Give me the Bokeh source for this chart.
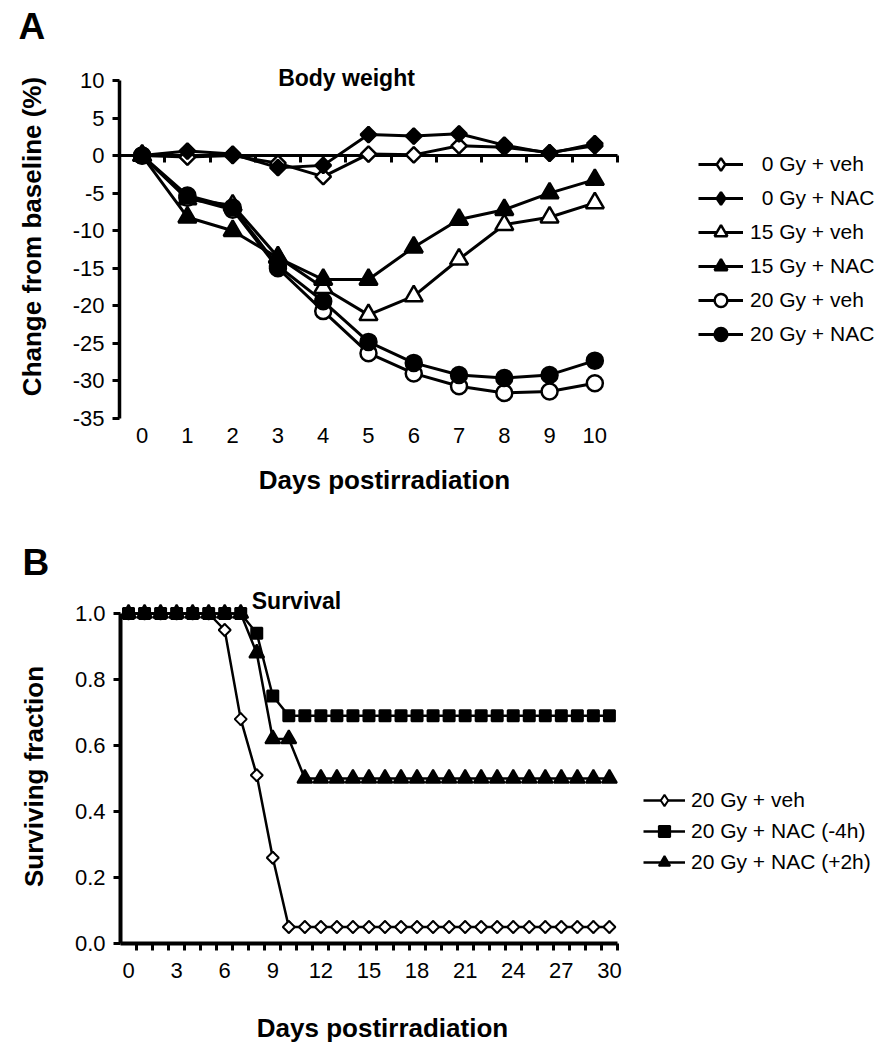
from bokeh.plotting import figure
from bokeh.models import (Range1d, LinearAxis, FixedTicker, Legend, LegendItem, Label,
                          PrintfTickFormatter, CustomJSTickFormatter)
from bokeh.layouts import column
from bokeh.embed import file_html
from bokeh.resources import INLINE
import math

FONT = "Liberation Sans"

# ---------------- Panel A: body weight ----------------
days_a = [0, 1, 2, 3, 4, 5, 6, 7, 8, 9, 10]
yticks_a = [-35, -30, -25, -20, -15, -10, -5, 0, 5, 10]
bw_0_veh = [0, -0.2, 0.0, -1.0, -2.8, 0.2, 0.1, 1.3, 1.1, 0.4, 1.3]
bw_0_nac = [0, 0.6, 0.2, -1.6, -1.3, 2.8, 2.6, 2.9, 1.4, 0.3, 1.6]
bw_15_veh = [0, -5.8, -6.6, -13.5, -17.6, -21.2, -18.7, -13.8, -9.2, -8.2, -6.3]
bw_15_nac = [0, -8.2, -10.0, -13.6, -16.5, -16.5, -12.2, -8.5, -7.2, -5.0, -3.2]
bw_20_veh = [0, -5.6, -7.2, -15.0, -20.7, -26.3, -29.0, -30.7, -31.6, -31.4, -30.3]
bw_20_nac = [0, -5.3, -6.9, -14.7, -19.4, -24.8, -27.6, -29.2, -29.6, -29.2, -27.3]
labels_a = ["\u20070 Gy + veh", "\u20070 Gy + NAC", "15 Gy + veh", "15 Gy + NAC",
            "20 Gy + veh", "20 Gy + NAC"]

# ---------------- Panel B: survival ----------------
days_b = [0, 1, 2, 3, 4, 5, 6, 7, 8, 9, 10, 11, 12, 13, 14, 15, 16, 17, 18, 19, 20,
          21, 22, 23, 24, 25, 26, 27, 28, 29, 30]
xticks_b = [0, 3, 6, 9, 12, 15, 18, 21, 24, 27, 30]
yticks_b = [0.0, 0.2, 0.4, 0.6, 0.8, 1.0]
surv_veh = [1.0, 1.0, 1.0, 1.0, 1.0, 1.0, 0.95, 0.68, 0.51, 0.26, 0.05, 0.05, 0.05,
            0.05, 0.05, 0.05, 0.05, 0.05, 0.05, 0.05, 0.05, 0.05, 0.05, 0.05, 0.05,
            0.05, 0.05, 0.05, 0.05, 0.05, 0.05]
surv_nac_m4 = [1.0, 1.0, 1.0, 1.0, 1.0, 1.0, 1.0, 1.0, 0.94, 0.75, 0.69, 0.69, 0.69,
               0.69, 0.69, 0.69, 0.69, 0.69, 0.69, 0.69, 0.69, 0.69, 0.69, 0.69, 0.69,
               0.69, 0.69, 0.69, 0.69, 0.69, 0.69]
surv_nac_p2 = [1.0, 1.0, 1.0, 1.0, 1.0, 1.0, 1.0, 1.0, 0.88, 0.62, 0.62, 0.5, 0.5,
               0.5, 0.5, 0.5, 0.5, 0.5, 0.5, 0.5, 0.5, 0.5, 0.5, 0.5, 0.5,
               0.5, 0.5, 0.5, 0.5, 0.5, 0.5]
labels_b = ["20 Gy + veh", "20 Gy + NAC (-4h)", "20 Gy + NAC (+2h)"]

W = 880
TICK_FS = "22px"


def make_axis(loc, ticks, lw, tick_out, standoff, bounds="auto", formatter=None,
              line=True):
    ax = LinearAxis(fixed_location=loc, ticker=FixedTicker(ticks=ticks), bounds=bounds)
    if formatter is not None:
        ax.formatter = formatter
    ax.axis_line_color = "black" if line else None
    ax.axis_line_width = lw
    ax.major_tick_line_color = "black" if tick_out > 0 else None
    ax.major_tick_line_width = 3
    ax.major_tick_out = tick_out
    ax.major_tick_in = 0
    ax.minor_tick_line_color = None
    ax.major_label_text_font = FONT
    ax.major_label_text_font_size = TICK_FS
    ax.major_label_text_color = "black"
    ax.major_label_standoff = standoff
    return ax


def text(p, x, y, s, size, bold=True, align="left", baseline="middle", angle=0.0):
    p.add_layout(Label(x=x, y=y, text=s, text_align=align, text_baseline=baseline,
                       angle=angle, text_font=FONT, text_font_size=size,
                       text_font_style="bold" if bold else "normal", text_color="black"))


def base_fig(h, xr, yr):
    p = figure(width=W, height=h, x_range=xr, y_range=yr, output_backend="svg",
               toolbar_location=None, x_axis_location=None, y_axis_location=None,
               min_border=0, background_fill_color="white", border_fill_color="white")
    p.outline_line_color = None
    p.grid.visible = False
    return p


def add_series(p, xs, vals, mk, sz, fc, lw, mlw, leg_sz, label):
    """Line + markers. Diamonds: a plain 'diamond' glyph (used by the legend) is drawn
    first and covered by 45-degree squares, which give the wider plot diamonds."""
    lr = p.line(xs, vals, line_color="black", line_width=lw)
    if mk == "diamond":
        sr = p.scatter(xs, vals, marker="diamond", size=leg_sz, fill_color=fc,
                       line_color="black", line_width=mlw)
        p.scatter(xs, vals, marker="square", angle=math.pi / 4, size=sz, fill_color=fc,
                  line_color="black", line_width=mlw)
    else:
        sr = p.scatter(xs, vals, marker=mk, size=sz, fill_color=fc,
                       line_color="black", line_width=mlw)
    return LegendItem(label=label, renderers=[lr, sr])


empty_fmt = CustomJSTickFormatter(code="return ''")

# ---------- Figure A (page px: day -0.5 -> x 119, 45.27 px/day; y 10 -> 80, 7.511 px/unit) ----------
HA = 538
sxa, sya = 45.27, 7.511
xr_a = Range1d(-0.5 - 119 / sxa, -0.5 + (W - 119) / sxa)
yr_a = Range1d(10 - (HA - 80) / sya, 10 + 80 / sya)
pA = base_fig(HA, xr_a, yr_a)

zero_a = make_axis(0, [d + 0.5 for d in days_a], 3, 7, 0, bounds=(-0.5, 10.5),
                   formatter=empty_fmt)
zero_a.level = "underlay"
pA.add_layout(zero_a, "below")
pA.add_layout(make_axis(-35, days_a, 0, 0, 10, line=False), "below")
pA.add_layout(make_axis(-0.5, yticks_a, 3.5, 7, 8, bounds=(-35, 10),
                        formatter=PrintfTickFormatter(format="%d")), "left")

# (values, marker, size, fill, legend index)
series_a = [
    (bw_15_veh, "triangle", 18, "white", 2),
    (bw_15_nac, "triangle", 18, "black", 3),
    (bw_20_veh, "circle", 16, "white", 4),
    (bw_20_nac, "circle", 16, "black", 5),
    (bw_0_veh, "diamond", 11, "white", 0),
    (bw_0_nac, "diamond", 11, "black", 1),
]
items_a = [None] * 6
for vals, mk, sz, fc, li in series_a:
    items_a[li] = add_series(pA, days_a, vals, mk, sz, fc, 3, 2.5, 15, labels_a[li])

legA = Legend(items=items_a, location=(698, HA - 350), glyph_width=45, glyph_height=32,
              label_height=30, spacing=2, padding=0, margin=0, label_standoff=7,
              border_line_color=None, background_fill_alpha=0,
              label_text_font=FONT, label_text_font_size="21px", label_text_color="black")
pA.add_layout(legA, "center")


def ax_x(px):
    return xr_a.start + px / sxa


def ax_y(py):
    return yr_a.end - py / sya


text(pA, ax_x(18), ax_y(26), "A", "37px")
text(pA, ax_x(346), ax_y(77), "Body weight", "23px", align="center")
text(pA, ax_x(31), ax_y(236), "Change from baseline (%)", "26px", align="center",
     angle=math.pi / 2)
text(pA, ax_x(384), ax_y(479), "Days postirradiation", "26px", align="center")

# ---------- Figure B (page px from 538: day -0.5 -> x 120, 16.03 px/day; 1.0 -> y 75, 330 px/unit) ----------
HB = 510
sxb, syb = 16.03, 330.0
xr_b = Range1d(-0.5 - 120 / sxb, -0.5 + (W - 120) / sxb)
yr_b = Range1d(1.0 - (HB - 75) / syb, 1.0 + 75 / syb)
pB = base_fig(HB, xr_b, yr_b)

pB.add_layout(make_axis(0, [d + 0.5 for d in days_b], 4, 7, 0, bounds=(-0.5, 30.5),
                        formatter=empty_fmt), "below")
pB.add_layout(make_axis(0, xticks_b, 0, 0, 19, line=False), "below")
pB.add_layout(make_axis(-0.5, yticks_b, 4, 7, 8, bounds=(0, 1),
                        formatter=PrintfTickFormatter(format="%.1f")), "left")

series_b = [
    (surv_veh, "diamond", 8.5, "white", 0),
    (surv_nac_p2, "triangle", 15, "black", 2),
    (surv_nac_m4, "square", 11, "black", 1),
]
items_b = [None] * 3
for vals, mk, sz, fc, li in series_b:
    items_b[li] = add_series(pB, days_b, vals, mk, sz, fc, 2.5, 2, 12, labels_b[li])

legB = Legend(items=items_b, location=(643, HB - (786 - 538 + 90)), glyph_width=42,
              glyph_height=28, label_height=28, spacing=3, padding=0, margin=0,
              label_standoff=6, border_line_color=None, background_fill_alpha=0,
              label_text_font=FONT, label_text_font_size="21px", label_text_color="black")
pB.add_layout(legB, "center")


def bx_x(px):
    return xr_b.start + px / sxb


def bx_y(py):
    return yr_b.end - (py - 538) / syb


text(pB, bx_x(22), bx_y(562), "B", "37px")
text(pB, bx_x(296), bx_y(600), "Survival", "23px", align="center")
text(pB, bx_x(33), bx_y(776), "Surviving fraction", "26px", align="center",
     angle=math.pi / 2)
text(pB, bx_x(382), bx_y(1027), "Days postirradiation", "26px", align="center")

layout = column(pA, pB)
open("out.html", "w").write(file_html(layout, INLINE))
